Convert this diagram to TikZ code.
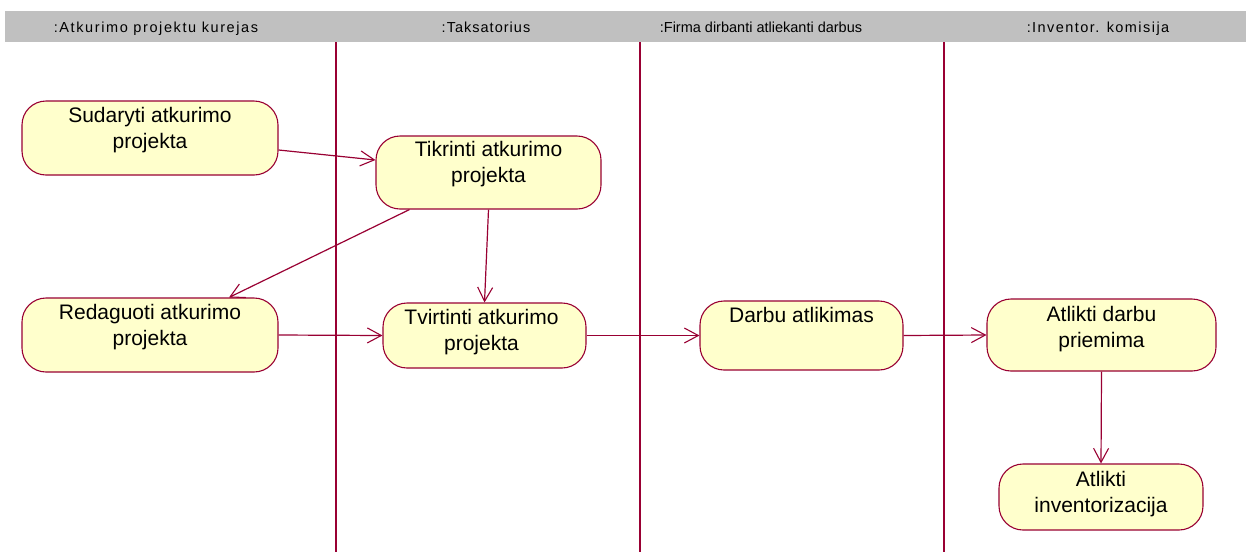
\documentclass[tikz,border=0pt]{standalone}
\usepackage{fontspec}
\setmainfont{Liberation Sans}
\usetikzlibrary{arrows.meta}

\definecolor{swimline}{RGB}{153,0,51}
\definecolor{actfill}{RGB}{255,255,204}
\definecolor{headgray}{RGB}{192,192,192}

\tikzset{
  activity/.style={rectangle, draw=swimline, fill=actfill, line width=1.1pt,
    rounded corners=24pt, inner sep=0pt},
  acttext/.style={anchor=north, inner sep=0pt, align=center,
    font=\fontsize{21}{26}\selectfont},
  lanehead/.style={anchor=base, inner sep=0pt, font=\fontsize{14.5}{17}\selectfont},
  laneline/.style={draw=swimline, line width=1.3pt},
  flow/.style={draw=swimline, line width=1.2pt,
    -{Straight Barb[length=14pt,width=15pt,line width=1.1pt]}},
}

\begin{document}
\begin{tikzpicture}[x=1pt, y=-1pt]
  \useasboundingbox[fill=white] (0,0) rectangle (1246,552);

  % header band with lane titles
  \fill[headgray] (5,11) rectangle (1246,42);
  \node[lanehead] (h1) at (156,32) {\addfontfeature{LetterSpace=11}:Atkurimo projektu kurejas};
  \node[lanehead] (h2) at (486,32) {\addfontfeature{LetterSpace=7}:Taksatorius};
  \node[lanehead] (h3) at (761,32) {:Firma dirbanti atliekanti darbus};
  \node[lanehead] (h4) at (1098,32) {\addfontfeature{LetterSpace=10}:Inventor. komisija};

  % swimlane separators
  \coordinate (l1t) at (336,42);  \coordinate (l1b) at (336,552);
  \coordinate (l2t) at (640,42);  \coordinate (l2b) at (640,552);
  \coordinate (l3t) at (944,42);  \coordinate (l3b) at (944,552);
  \draw[laneline] (l1t) -- (l1b);
  \draw[laneline] (l2t) -- (l2b);
  \draw[laneline] (l3t) -- (l3b);

  % activity states
  \node[activity, minimum width=256pt, minimum height=74pt] (n1) at (150,138) {};
  \node[activity, minimum width=225pt, minimum height=73pt] (n2) at (488.5,172.5) {};
  \node[activity, minimum width=256pt, minimum height=74pt] (n3) at (150,335) {};
  \node[activity, minimum width=203pt, minimum height=65pt] (n4) at (484.5,335.5) {};
  \node[activity, minimum width=203pt, minimum height=69pt] (n5) at (801.5,335.5) {};
  \node[activity, minimum width=229pt, minimum height=72pt] (n6) at (1101.5,335) {};
  \node[activity, minimum width=204pt, minimum height=66pt] (n7) at (1101,497) {};

  % activity labels
  \node[acttext] (t1) at ([yshift=-7pt]n1.north) {Sudaryti atkurimo\\projekta};
  \node[acttext] (t2) at ([yshift=-6pt]n2.north) {Tikrinti atkurimo\\projekta};
  \node[acttext] (t3) at ([yshift=-7pt]n3.north) {Redaguoti atkurimo\\projekta};
  \node[acttext] (t4) at ([xshift=-3pt,yshift=-7pt]n4.north) {Tvirtinti atkurimo\\projekta};
  \node[acttext] (t5) at ([yshift=-7pt]n5.north) {Darbu atlikimas};
  \node[acttext] (t6) at ([yshift=-8pt]n6.north) {Atlikti darbu\\priemima};
  \node[acttext] (t7) at ([yshift=-8pt]n7.north) {Atlikti\\inventorizacija};

  % transitions
  \draw[flow] ([yshift=-12pt]n1.east) -- ([yshift=12.5pt]n2.west);
  \draw[flow] ([xshift=-79pt]n2.south) -- ([xshift=79pt]n3.north);
  \draw[flow] (n2.south) -- (n4.north);
  \draw[flow] (n3.east) -- (n4.west);
  \draw[flow] (n4.east) -- (n5.west);
  \draw[flow] (n5.east) -- (n6.west);
  \draw[flow] (n6.south) -- (n7.north);
\end{tikzpicture}
\end{document}
